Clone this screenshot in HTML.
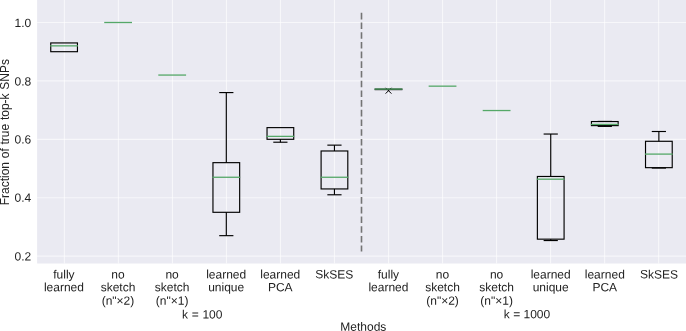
<!DOCTYPE html>
<html><head><meta charset="utf-8"><title>chart</title>
<style>
html,body{margin:0;padding:0;background:#fff;}
body{width:686px;height:331px;overflow:hidden;font-family:"Liberation Sans",sans-serif;}
svg{display:block}
text{font-family:"Liberation Sans",sans-serif;fill:#222;}
</style></head><body>
<svg style="will-change:transform" width="686" height="331" viewBox="0 0 686 331">
<rect x="0" y="0" width="686" height="331" fill="#fff"/>
<rect x="37.1" y="0" width="648.9" height="263.5" fill="#eaeaf2"/>

<line x1="37.1" x2="686" y1="22.50" y2="22.50" stroke="#fff" stroke-opacity="0.6" stroke-width="1.15"/>
<line x1="37.1" x2="686" y1="80.90" y2="80.90" stroke="#fff" stroke-opacity="0.6" stroke-width="1.15"/>
<line x1="37.1" x2="686" y1="139.30" y2="139.30" stroke="#fff" stroke-opacity="0.6" stroke-width="1.15"/>
<line x1="37.1" x2="686" y1="197.70" y2="197.70" stroke="#fff" stroke-opacity="0.6" stroke-width="1.15"/>
<line x1="37.1" x2="686" y1="256.10" y2="256.10" stroke="#fff" stroke-opacity="0.6" stroke-width="1.15"/>
<line x1="64.40" x2="64.40" y1="0" y2="263.5" stroke="#fff" stroke-opacity="0.6" stroke-width="1.15"/>
<line x1="118.42" x2="118.42" y1="0" y2="263.5" stroke="#fff" stroke-opacity="0.6" stroke-width="1.15"/>
<line x1="172.44" x2="172.44" y1="0" y2="263.5" stroke="#fff" stroke-opacity="0.6" stroke-width="1.15"/>
<line x1="226.46" x2="226.46" y1="0" y2="263.5" stroke="#fff" stroke-opacity="0.6" stroke-width="1.15"/>
<line x1="280.48" x2="280.48" y1="0" y2="263.5" stroke="#fff" stroke-opacity="0.6" stroke-width="1.15"/>
<line x1="334.50" x2="334.50" y1="0" y2="263.5" stroke="#fff" stroke-opacity="0.6" stroke-width="1.15"/>
<line x1="388.52" x2="388.52" y1="0" y2="263.5" stroke="#fff" stroke-opacity="0.6" stroke-width="1.15"/>
<line x1="442.54" x2="442.54" y1="0" y2="263.5" stroke="#fff" stroke-opacity="0.6" stroke-width="1.15"/>
<line x1="496.56" x2="496.56" y1="0" y2="263.5" stroke="#fff" stroke-opacity="0.6" stroke-width="1.15"/>
<line x1="550.58" x2="550.58" y1="0" y2="263.5" stroke="#fff" stroke-opacity="0.6" stroke-width="1.15"/>
<line x1="604.60" x2="604.60" y1="0" y2="263.5" stroke="#fff" stroke-opacity="0.6" stroke-width="1.15"/>
<line x1="658.62" x2="658.62" y1="0" y2="263.5" stroke="#fff" stroke-opacity="0.6" stroke-width="1.15"/>
<line x1="361.5" x2="361.5" y1="12.8" y2="251.6" stroke="#747474" stroke-width="1.6" stroke-dasharray="6.6,3.1"/>
<rect x="50.75" y="42.94" width="26.70" height="8.76" fill="none" stroke="#000" stroke-width="1.15"/>
<line x1="50.15" x2="77.95" y1="45.86" y2="45.86" stroke="#55a868" stroke-width="1.3"/>
<line x1="104.22" x2="132.02" y1="22.50" y2="22.50" stroke="#55a868" stroke-width="1.3"/>
<line x1="158.29" x2="186.09" y1="75.06" y2="75.06" stroke="#55a868" stroke-width="1.3"/>
<rect x="212.96" y="162.66" width="26.70" height="49.64" fill="none" stroke="#000" stroke-width="1.15"/>
<line x1="226.31" x2="226.31" y1="162.66" y2="92.58" stroke="#000" stroke-width="1.15"/>
<line x1="219.21" x2="233.41" y1="92.58" y2="92.58" stroke="#000" stroke-width="1.15"/>
<line x1="226.31" x2="226.31" y1="212.30" y2="235.66" stroke="#000" stroke-width="1.15"/>
<line x1="219.21" x2="233.41" y1="235.66" y2="235.66" stroke="#000" stroke-width="1.15"/>
<line x1="212.36" x2="240.16" y1="177.26" y2="177.26" stroke="#55a868" stroke-width="1.3"/>
<rect x="267.03" y="127.62" width="26.70" height="11.68" fill="none" stroke="#000" stroke-width="1.15"/>
<line x1="280.38" x2="280.38" y1="139.30" y2="142.22" stroke="#000" stroke-width="1.15"/>
<line x1="273.28" x2="287.48" y1="142.22" y2="142.22" stroke="#000" stroke-width="1.15"/>
<line x1="266.43" x2="294.23" y1="136.38" y2="136.38" stroke="#55a868" stroke-width="1.3"/>
<rect x="321.10" y="150.98" width="26.70" height="37.96" fill="none" stroke="#000" stroke-width="1.15"/>
<line x1="334.45" x2="334.45" y1="150.98" y2="145.14" stroke="#000" stroke-width="1.15"/>
<line x1="327.35" x2="341.55" y1="145.14" y2="145.14" stroke="#000" stroke-width="1.15"/>
<line x1="334.45" x2="334.45" y1="188.94" y2="194.78" stroke="#000" stroke-width="1.15"/>
<line x1="327.35" x2="341.55" y1="194.78" y2="194.78" stroke="#000" stroke-width="1.15"/>
<line x1="320.50" x2="348.30" y1="177.26" y2="177.26" stroke="#55a868" stroke-width="1.3"/>
<rect x="375.17" y="89.08" width="26.70" height="0.53" fill="none" stroke="#000" stroke-width="1.15"/>
<path d="M385.62 87.81L391.42 93.61M385.62 93.61L391.42 87.81" stroke="#000" stroke-width="1" fill="none"/>
<line x1="374.57" x2="402.37" y1="89.08" y2="89.08" stroke="#55a868" stroke-width="1.3"/>
<line x1="428.64" x2="456.44" y1="86.16" y2="86.16" stroke="#55a868" stroke-width="1.3"/>
<line x1="482.71" x2="510.51" y1="110.54" y2="110.54" stroke="#55a868" stroke-width="1.3"/>
<rect x="537.38" y="176.47" width="26.70" height="62.69" fill="none" stroke="#000" stroke-width="1.15"/>
<line x1="550.73" x2="550.73" y1="176.47" y2="134.04" stroke="#000" stroke-width="1.15"/>
<line x1="543.63" x2="557.83" y1="134.04" y2="134.04" stroke="#000" stroke-width="1.15"/>
<line x1="550.73" x2="550.73" y1="239.16" y2="240.54" stroke="#000" stroke-width="1.15"/>
<line x1="543.63" x2="557.83" y1="240.54" y2="240.54" stroke="#000" stroke-width="1.15"/>
<line x1="536.78" x2="564.58" y1="179.19" y2="179.19" stroke="#55a868" stroke-width="1.3"/>
<rect x="591.45" y="121.55" width="26.70" height="4.06" fill="none" stroke="#000" stroke-width="1.15"/>
<line x1="604.80" x2="604.80" y1="121.55" y2="121.43" stroke="#000" stroke-width="1.15"/>
<line x1="597.70" x2="611.90" y1="121.43" y2="121.43" stroke="#000" stroke-width="1.15"/>
<line x1="604.80" x2="604.80" y1="125.61" y2="126.39" stroke="#000" stroke-width="1.15"/>
<line x1="597.70" x2="611.90" y1="126.39" y2="126.39" stroke="#000" stroke-width="1.15"/>
<line x1="590.85" x2="618.65" y1="124.41" y2="124.41" stroke="#55a868" stroke-width="1.3"/>
<rect x="645.52" y="141.29" width="26.70" height="26.37" fill="none" stroke="#000" stroke-width="1.15"/>
<line x1="658.87" x2="658.87" y1="141.29" y2="131.50" stroke="#000" stroke-width="1.15"/>
<line x1="651.77" x2="665.97" y1="131.50" y2="131.50" stroke="#000" stroke-width="1.15"/>
<line x1="658.87" x2="658.87" y1="167.65" y2="168.06" stroke="#000" stroke-width="1.15"/>
<line x1="651.77" x2="665.97" y1="168.06" y2="168.06" stroke="#000" stroke-width="1.15"/>
<line x1="644.92" x2="672.72" y1="154.10" y2="154.10" stroke="#55a868" stroke-width="1.3"/>
<text x="31.15" y="27.00" transform="rotate(0.05 31.15 27.00)" font-size="12" text-anchor="end" >1.0</text>
<text x="31.15" y="85.55" transform="rotate(0.05 31.15 85.55)" font-size="12" text-anchor="end" >0.8</text>
<text x="31.15" y="143.45" transform="rotate(0.05 31.15 143.45)" font-size="12" text-anchor="end" >0.6</text>
<text x="31.15" y="201.80" transform="rotate(0.05 31.15 201.80)" font-size="12" text-anchor="end" >0.4</text>
<text x="31.15" y="260.45" transform="rotate(0.05 31.15 260.45)" font-size="12" text-anchor="end" >0.2</text>
<text transform="translate(9.3,132.15) rotate(-90)" word-spacing="0.4" font-size="12" text-anchor="middle">Fraction of true top-k SNPs</text>
<text x="63.90" y="278.40" transform="rotate(0.05 63.90 278.40)" font-size="12" text-anchor="middle" >fully</text>
<text x="63.90" y="291.20" transform="rotate(0.05 63.90 291.20)" font-size="12" text-anchor="middle" >learned</text>
<text x="117.99" y="278.40" transform="rotate(0.05 117.99 278.40)" font-size="12" text-anchor="middle" >no</text>
<text x="117.99" y="291.20" transform="rotate(0.05 117.99 291.20)" font-size="12" text-anchor="middle" >sketch</text>
<text x="117.99" y="304.80" transform="rotate(0.05 117.99 304.80)" font-size="12" text-anchor="middle" >(n&quot;×2)</text>
<text x="172.08" y="278.40" transform="rotate(0.05 172.08 278.40)" font-size="12" text-anchor="middle" >no</text>
<text x="172.08" y="291.20" transform="rotate(0.05 172.08 291.20)" font-size="12" text-anchor="middle" >sketch</text>
<text x="172.08" y="304.80" transform="rotate(0.05 172.08 304.80)" font-size="12" text-anchor="middle" >(n&quot;×1)</text>
<text x="226.17" y="278.40" transform="rotate(0.05 226.17 278.40)" font-size="12" text-anchor="middle" >learned</text>
<text x="226.17" y="291.20" transform="rotate(0.05 226.17 291.20)" font-size="12" text-anchor="middle" >unique</text>
<text x="280.26" y="278.40" transform="rotate(0.05 280.26 278.40)" font-size="12" text-anchor="middle" >learned</text>
<text x="280.26" y="291.20" transform="rotate(0.05 280.26 291.20)" font-size="12" text-anchor="middle" >PCA</text>
<text x="334.35" y="278.40" transform="rotate(0.05 334.35 278.40)" font-size="12" text-anchor="middle" >SkSES</text>
<text x="388.44" y="278.40" transform="rotate(0.05 388.44 278.40)" font-size="12" text-anchor="middle" >fully</text>
<text x="388.44" y="291.20" transform="rotate(0.05 388.44 291.20)" font-size="12" text-anchor="middle" >learned</text>
<text x="442.53" y="278.40" transform="rotate(0.05 442.53 278.40)" font-size="12" text-anchor="middle" >no</text>
<text x="442.53" y="291.20" transform="rotate(0.05 442.53 291.20)" font-size="12" text-anchor="middle" >sketch</text>
<text x="442.53" y="304.80" transform="rotate(0.05 442.53 304.80)" font-size="12" text-anchor="middle" >(n&quot;×2)</text>
<text x="496.62" y="278.40" transform="rotate(0.05 496.62 278.40)" font-size="12" text-anchor="middle" >no</text>
<text x="496.62" y="291.20" transform="rotate(0.05 496.62 291.20)" font-size="12" text-anchor="middle" >sketch</text>
<text x="496.62" y="304.80" transform="rotate(0.05 496.62 304.80)" font-size="12" text-anchor="middle" >(n&quot;×1)</text>
<text x="550.71" y="278.40" transform="rotate(0.05 550.71 278.40)" font-size="12" text-anchor="middle" >learned</text>
<text x="550.71" y="291.20" transform="rotate(0.05 550.71 291.20)" font-size="12" text-anchor="middle" >unique</text>
<text x="604.80" y="278.40" transform="rotate(0.05 604.80 278.40)" font-size="12" text-anchor="middle" >learned</text>
<text x="604.80" y="291.20" transform="rotate(0.05 604.80 291.20)" font-size="12" text-anchor="middle" >PCA</text>
<text x="658.89" y="278.40" transform="rotate(0.05 658.89 278.40)" font-size="12" text-anchor="middle" >SkSES</text>
<text x="202.20" y="318.45" transform="rotate(0.05 202.20 318.45)" font-size="12" text-anchor="middle" word-spacing="0.4">k = 100</text>
<text x="527.00" y="318.30" transform="rotate(0.05 527.00 318.30)" font-size="12" text-anchor="middle" >k = 1000</text>
<text x="363.30" y="330.70" transform="rotate(0.05 363.30 330.70)" font-size="12" text-anchor="middle" >Methods</text>
</svg></body></html>
